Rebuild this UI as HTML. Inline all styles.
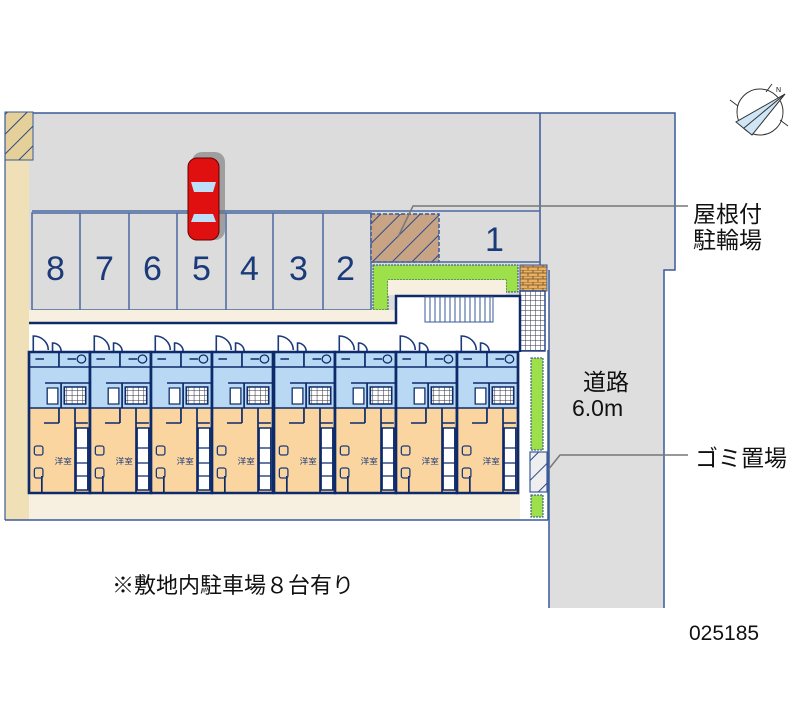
<!DOCTYPE html>
<html><head><meta charset="utf-8"><style>
html,body{margin:0;padding:0;background:#fff;width:800px;height:727px;overflow:hidden}
svg{display:block}
.t{font-family:"Liberation Sans","Noto Sans CJK JP",sans-serif;fill:#111}
.n{font-family:"Liberation Sans",sans-serif;fill:#1a3a7a;font-size:34px}
</style></head><body>
<svg width="800" height="727" viewBox="0 0 800 727" xmlns="http://www.w3.org/2000/svg">
<defs>
<pattern id="hatch" width="14" height="14" patternUnits="userSpaceOnUse" patternTransform="rotate(45)">
<line x1="0" y1="0" x2="0" y2="14" stroke="#2a4a8a" stroke-width="2"/></pattern>
<pattern id="grid" width="5" height="5" patternUnits="userSpaceOnUse">
<rect width="5" height="5" fill="#fff"/><path d="M0 0H5M0 0V5" stroke="#334" stroke-width="1"/></pattern>
<pattern id="brick" width="10" height="6" patternUnits="userSpaceOnUse">
<rect width="10" height="6" fill="#e8b060"/><path d="M0 0H10M0 3H10M3 0V3M8 3V6" stroke="#6a4a2a" stroke-width="0.8"/></pattern>
<g id="unit">
<rect x="0" y="352" width="57" height="56" fill="#b8d8f4"/>
<rect x="0" y="408" width="57" height="85" fill="#fbd5a0"/>
<path d="M4 352 V336 A14 14 0 0 1 18 350 M22 352 V343 A8 8 0 0 1 30 351" fill="none" stroke="#1a3a7a" stroke-width="1.5"/>
<rect x="0" y="352" width="57" height="141" fill="none" stroke="#0d2b6b" stroke-width="2.5"/>
<path d="M0 408H57 M0 367H57 M28 352V367 M30 383V408 M15 383H57 M12 493V476 M28 423V408 M43 408V493 M43 423H55 M14 423H28" fill="none" stroke="#0d2b6b" stroke-width="1.6"/>
<rect x="33" y="387" width="20" height="17" fill="url(#grid)" stroke="#0d2b6b" stroke-width="1.5"/>
<rect x="17" y="388" width="10" height="16" fill="#fff" stroke="#0d2b6b" stroke-width="1.2"/>
<circle cx="49" cy="359" r="4" fill="none" stroke="#0d2b6b" stroke-width="1.2"/>
<path d="M6 359h8M36 359h8" stroke="#0d2b6b" stroke-width="1.5"/>
<rect x="44" y="428" width="11" height="62" fill="#fff" stroke="#0d2b6b" stroke-width="1.5"/>
<path d="M44 448H55M44 463H55M44 476H55" stroke="#0d2b6b" stroke-width="1.2"/>
<rect x="5" y="446" width="8" height="9" rx="2" fill="none" stroke="#1a3a7a" stroke-width="1.2"/>
<rect x="5" y="468" width="8" height="10" rx="2" fill="none" stroke="#1a3a7a" stroke-width="1.2"/>
<text x="24" y="464" font-size="8" class="t" style="fill:#1a3a7a">洋室</text>
</g>
</defs>

<rect x="28" y="113" width="512" height="200" fill="#dcdcdc"/>
<line x1="5" y1="113" x2="540" y2="113" stroke="#3a5a9a" stroke-width="1.5"/>
<path d="M540 113H675V270H664V608H549V270H540Z" fill="#dedede"/>
<path d="M540 113H675V270H664V608 M549 608V270 M540 113V270" fill="none" stroke="#3a5a9a" stroke-width="1.5"/>
<rect x="5" y="113" width="24" height="407" fill="#efe0b8"/>
<rect x="5" y="112" width="28" height="48" fill="#e6d09a" stroke="#3a5a9a" stroke-width="1"/>
<rect x="5" y="112" width="28" height="48" fill="url(#hatch)"/>
<rect x="32" y="213" width="339" height="97" fill="#dcdcdc" stroke="#4a6aa0" stroke-width="1.5"/>
<path d="M80 213V310M129 213V310M177 213V310M226 213V310M273 213V310M323 213V310" stroke="#4a6aa0" stroke-width="1.5"/>
<line x1="32" y1="211" x2="540" y2="211" stroke="#4a6aa0" stroke-width="1.5"/>
<text class="n" x="46" y="280">8</text><text class="n" x="95" y="280">7</text>
<text class="n" x="143" y="280">6</text><text class="n" x="192" y="280">5</text>
<text class="n" x="240" y="280">4</text><text class="n" x="289" y="280">3</text>
<text class="n" x="336" y="280">2</text><text class="n" x="485" y="251">1</text>
<rect x="371" y="214" width="68" height="48" fill="#c8a484" stroke="#3a5a9a" stroke-width="1.5" stroke-dasharray="4 2"/>
<rect x="371" y="214" width="68" height="48" fill="url(#hatch)"/>
<line x1="371" y1="262" x2="540" y2="262" stroke="#4a6aa0" stroke-width="1.5"/>
<rect x="192" y="152" width="33" height="88" rx="10" fill="#777" opacity="0.6"/>
<rect x="188" y="158" width="31" height="82" rx="9" fill="#e01010" stroke="#600" stroke-width="1"/>
<path d="M191 182h25l-3 10h-19z M191 222h25l-3-8h-19z" fill="#bde0f8"/>
<polyline points="398,237 413,206 688,206" fill="none" stroke="#777" stroke-width="1.5"/>
<polyline points="540,480 560,455 688,455" fill="none" stroke="#777" stroke-width="1.5"/>
<path d="M373 265H518V292H506V280H388V310H373Z" fill="#9ee04a" stroke="#2a4a8a" stroke-width="1" stroke-dasharray="2 1"/>
<rect x="388" y="280" width="118" height="15" fill="#f7efe0"/>
<rect x="520" y="265" width="27" height="26" fill="url(#brick)" stroke="#3a5a9a" stroke-width="1"/>
<rect x="520" y="291" width="25" height="60" fill="url(#grid)" stroke="#2a4a8a" stroke-width="1.5"/>
<rect x="29" y="310" width="367" height="13" fill="#f7efe0"/>
<rect x="29" y="322" width="491" height="198" fill="#f7efe0"/>
<path d="M29 323H396V296H520V352H29Z" fill="#fff"/>
<path d="M29 323H396V296H520V352" fill="none" stroke="#0d2b6b" stroke-width="2.5"/>
<rect x="425" y="297" width="68" height="25" fill="#fff" stroke="#3a5a9a" stroke-width="1"/>
<path d="M430 297V322M435 297V322M440 297V322M445 297V322M450 297V322M455 297V322M460 297V322M465 297V322M470 297V322M475 297V322M480 297V322M485 297V322M490 297V322" stroke="#3a5a9a" stroke-width="1"/>
<use href="#unit" transform="translate(29,0) scale(1.07,1)"/>
<use href="#unit" transform="translate(90,0) scale(1.07,1)"/>
<use href="#unit" transform="translate(151,0) scale(1.07,1)"/>
<use href="#unit" transform="translate(212,0) scale(1.07,1)"/>
<use href="#unit" transform="translate(274,0) scale(1.07,1)"/>
<use href="#unit" transform="translate(335,0) scale(1.07,1)"/>
<use href="#unit" transform="translate(396,0) scale(1.07,1)"/>
<use href="#unit" transform="translate(457,0) scale(1.07,1)"/>
<line x1="5" y1="520" x2="548" y2="520" stroke="#3a5a9a" stroke-width="1.5"/>
<line x1="5" y1="113" x2="5" y2="520" stroke="#3a5a9a" stroke-width="1.2"/>
<rect x="531" y="358" width="12" height="92" fill="#9ee04a" stroke="#2a4a8a" stroke-width="1" stroke-dasharray="2 1"/>
<rect x="530" y="452" width="17" height="40" fill="#eee" stroke="#3a5a9a" stroke-width="1.2"/>
<rect x="530" y="452" width="17" height="40" fill="url(#hatch)"/>
<rect x="531" y="495" width="12" height="22" fill="#9ee04a" stroke="#2a4a8a" stroke-width="1" stroke-dasharray="2 1"/>
<line x1="548" y1="350" x2="548" y2="520" stroke="#3a5a9a" stroke-width="1.5"/>
<g transform="translate(760,112)" fill="none" stroke="#333" stroke-width="1">
<circle r="23"/>
<path d="M-30 -12L-22-6M28 14L20 8M-12 20L-6 12M12-28L6-20"/>
<path d="M25-18L-24 10L-8 23Z" fill="#cfe6f6" stroke="#333"/>
<path d="M25-18L-16 16"/>
</g>
<text class="t" x="776" y="92" font-size="7">N</text>
<text class="t" x="693" y="222" font-size="23">屋根付</text>
<text class="t" x="693" y="248" font-size="23">駐輪場</text>
<text class="t" x="583" y="390" font-size="23">道路</text>
<text class="t" x="572" y="416" font-size="23">6.0m</text>
<text class="t" x="695" y="466" font-size="23">ゴミ置場</text>
<text class="t" x="112" y="593" font-size="22">※敷地内駐車場８台有り</text>
<text class="t" x="689" y="640" font-size="21">025185</text>
</svg>
</body></html>
